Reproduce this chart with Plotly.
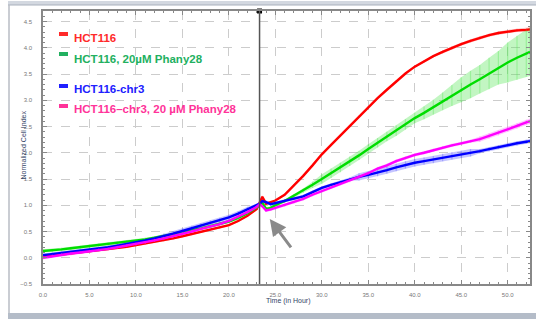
import numpy as np
import plotly.graph_objects as go

hours = [0, 1, 2, 3, 4, 5, 6, 7, 8, 9, 10, 11, 12, 13, 14, 15, 16, 17, 18, 19, 20, 21, 22, 23,
         23.3, 23.6, 24, 24.5,
         25, 26, 27, 28, 29, 30, 31, 32, 33, 34, 35, 36, 37, 38, 39, 40, 41, 42, 43, 44, 45, 46,
         47, 48, 49, 50, 51, 52, 52.4]

hct116 = [0.02, 0.04, 0.06, 0.08, 0.10, 0.12, 0.14, 0.16, 0.19, 0.21, 0.24, 0.27, 0.30, 0.33, 0.37, 0.41,
          0.45, 0.49, 0.53, 0.57, 0.62, 0.70, 0.80, 0.93,
          1.03, 1.16, 1.03, 1.06,
          1.09, 1.20, 1.38, 1.56, 1.76, 1.97, 2.15, 2.33, 2.51, 2.69, 2.87, 3.04, 3.20, 3.36, 3.51, 3.64,
          3.74, 3.84, 3.92, 4.00, 4.07, 4.13, 4.19, 4.24, 4.28, 4.31, 4.33, 4.34, 4.35]
hct116_err = [0.02] * 24 + [0.02] * 4 + [0.02] * 18 + [0.03] * 10 + [0.04]

hct116_ph = [0.13, 0.14, 0.16, 0.18, 0.20, 0.22, 0.24, 0.26, 0.28, 0.30, 0.32, 0.35, 0.38, 0.41, 0.45, 0.49,
             0.52, 0.56, 0.60, 0.64, 0.69, 0.76, 0.85, 0.96,
             1.02, 1.05, 0.93, 0.95,
             1.00, 1.08, 1.18, 1.28, 1.39, 1.50, 1.61, 1.72, 1.84, 1.95, 2.07, 2.19, 2.31, 2.42, 2.54, 2.66,
             2.76, 2.87, 2.98, 3.09, 3.20, 3.30, 3.40, 3.51, 3.62, 3.72, 3.81, 3.90, 3.92]
hct116_ph_err = ([0.03] * 24 + [0.03] * 4 +
                 [0.03, 0.03, 0.03, 0.04, 0.06, 0.09, 0.09, 0.09, 0.09, 0.09, 0.09, 0.09, 0.09, 0.10,
                  0.10, 0.10, 0.12, 0.14, 0.17, 0.20, 0.24, 0.26, 0.27, 0.30, 0.32, 0.38, 0.42, 0.45, 0.46])

chr3 = [0.05, 0.07, 0.09, 0.11, 0.13, 0.15, 0.17, 0.20, 0.23, 0.26, 0.29, 0.33, 0.37, 0.41, 0.46, 0.51,
        0.56, 0.61, 0.66, 0.71, 0.77, 0.84, 0.92, 1.00,
        1.03, 1.08, 1.06, 1.02,
        1.04, 1.08, 1.13, 1.17, 1.25, 1.33, 1.39, 1.44, 1.50, 1.54, 1.58, 1.62, 1.67, 1.72, 1.77, 1.81,
        1.84, 1.87, 1.91, 1.94, 1.97, 2.00, 2.03, 2.07, 2.11, 2.15, 2.18, 2.21, 2.22]
chr3_err = ([0.03] * 13 + [0.05] * 10 + [0.03] + [0.03] * 4 +
            [0.03] * 9 + [0.07] * 13 + [0.04] * 7)

chr3_ph = [0.00, 0.03, 0.06, 0.08, 0.10, 0.12, 0.15, 0.17, 0.20, 0.23, 0.26, 0.29, 0.33, 0.37, 0.41, 0.45,
           0.50, 0.55, 0.59, 0.64, 0.70, 0.78, 0.87, 0.97,
           1.02, 0.98, 0.90, 0.92,
           0.95, 1.00, 1.06, 1.12, 1.20, 1.27, 1.34, 1.41, 1.47, 1.54, 1.61, 1.70, 1.76, 1.84, 1.90, 1.96,
           2.00, 2.05, 2.10, 2.14, 2.18, 2.22, 2.26, 2.32, 2.38, 2.45, 2.51, 2.58, 2.60]
chr3_ph_err = [0.03] * 50 + [0.05] * 7

legend_labels = ["HCT116", "HCT116, 20µM Phany28", "HCT116-chr3", "HCT116\u2013chr3, 20 µM Phany28"]
x_ticks = [0, 5, 10, 15, 20, 25, 30, 35, 40, 45, 50]
compound_time = 23.3

series = [
    (legend_labels[0], hct116, hct116_err, "#ff0000", "rgba(255,80,80,0.35)", "#ff2a2a"),
    (legend_labels[1], hct116_ph, hct116_ph_err, "#00dd00", "rgba(80,230,80,0.35)", "#22b060"),
    (legend_labels[2], chr3, chr3_err, "#0000ff", "rgba(90,90,255,0.35)", "#2020ff"),
    (legend_labels[3], chr3_ph, chr3_ph_err, "#ff00ff", "rgba(255,90,255,0.35)", "#ff3399"),
]

fig = go.Figure()
t = np.array(hours)
for name, vals, err, col, light, tcol in series:
    v = np.array(vals)
    e = np.array(err)
    fig.add_trace(go.Scatter(x=t, y=v + e, mode="lines", line=dict(width=0), hoverinfo="skip",
                             showlegend=False))
    fig.add_trace(go.Scatter(x=t, y=v - e, mode="lines", line=dict(width=0), fill="tonexty",
                             fillcolor=light, hoverinfo="skip", showlegend=False))
for name, vals, err, col, light, tcol in series:
    fig.add_trace(go.Scatter(x=hours, y=vals, mode="lines", name=name,
                             line=dict(color=col, width=2.4),
                             error_y=dict(type="data", array=err, color=light, thickness=1.2, width=0),
                             showlegend=False))

# compound addition marker
fig.add_shape(type="line", x0=compound_time, x1=compound_time, y0=0, y1=1, xref="x", yref="paper",
              line=dict(color="#555555", width=1.5))
fig.add_trace(go.Scatter(x=[compound_time], y=[4.7], mode="markers",
                         marker=dict(symbol="square", size=5, color="black"),
                         cliponaxis=False, showlegend=False, hoverinfo="skip"))

# arrow
fig.add_annotation(x=24.4, y=0.74, ax=26.8, ay=0.17, xref="x", yref="y", axref="x", ayref="y",
                   text="", showarrow=True, arrowhead=2, arrowsize=1.1, arrowwidth=3,
                   arrowcolor="#8a8a8a")

# legend
def px_x(px):
    return (px - 43) / 487

def px_y(py):
    return (284 - py) / 273

sym_y = [34, 54, 86, 106]
txt_y = [38, 59, 89, 109]
for i, (name, vals, err, col, light, tcol) in enumerate(series):
    fig.add_shape(type="line", xref="paper", yref="paper", x0=px_x(59), x1=px_x(68),
                  y0=px_y(sym_y[i]), y1=px_y(sym_y[i]), line=dict(color=tcol, width=4))
    fig.add_annotation(x=px_x(72), y=px_y(txt_y[i]), xref="paper", yref="paper",
                       text="<b>" + name + "</b>", showarrow=False, xanchor="left", yanchor="middle",
                       font=dict(family="Liberation Sans, Arial", size=11.5, color=tcol))

# axis titles
fig.add_annotation(x=px_x(288), y=px_y(307), xref="paper", yref="paper", text="Time (in Hour)",
                   showarrow=False, font=dict(family="Liberation Sans, Arial", size=7, color="#334466"))
fig.add_annotation(x=px_x(17), y=px_y(145), xref="paper", yref="paper", text="Normalized Cell Index",
                   showarrow=False, textangle=-90,
                   font=dict(family="Liberation Sans, Arial", size=7, color="#334466"))

# outer frame
fig.add_shape(type="rect", xref="paper", yref="paper", x0=px_x(8), x1=px_x(540), y0=px_y(1),
              y1=px_y(5), fillcolor="#d3d8e0", line=dict(width=0), layer="below")
fig.add_shape(type="line", xref="paper", yref="paper", x0=px_x(8), x1=px_x(540), y0=px_y(5),
              y1=px_y(5), line=dict(color="#a8b0bc", width=1))
fig.add_shape(type="line", xref="paper", yref="paper", x0=px_x(9), x1=px_x(9), y0=px_y(5),
              y1=px_y(316), line=dict(color="#b8bcc4", width=1.5))
fig.add_shape(type="rect", xref="paper", yref="paper", x0=px_x(8), x1=px_x(540), y0=px_y(313),
              y1=px_y(319), fillcolor="#b4bcc8", line=dict(width=0))

axis_common = dict(showline=True, linecolor="#888888", linewidth=1.5, mirror="ticks",
                   ticks="inside", ticklen=4, tickcolor="#888888", showgrid=True,
                   gridcolor="#cccccc", griddash="dash", gridwidth=1, zeroline=False,
                   automargin=False,
                   tickfont=dict(family="Liberation Sans, Arial", size=6, color="#777777"))

fig.update_layout(
    width=536, height=323,
    margin=dict(l=43, r=6, t=11, b=39),
    paper_bgcolor="white", plot_bgcolor="white",
    showlegend=False,
    xaxis=dict(range=[0, 52.4], tickvals=x_ticks, tickformat=".1f",
               minor=dict(dtick=1, ticklen=2, ticks="inside", tickcolor="#888888", showgrid=False),
               ticklabelstandoff=4, **axis_common),
    yaxis=dict(range=[-0.5, 4.7], dtick=0.5, tick0=-0.5, tickformat=".1f",
               minor=dict(dtick=0.1, ticklen=2, ticks="inside", tickcolor="#888888", showgrid=False),
               ticklabelstandoff=8, **axis_common),
)

fig.write_html("out.html", config={"displayModeBar": False},
               post_script="document.body.style.margin='0px';")
